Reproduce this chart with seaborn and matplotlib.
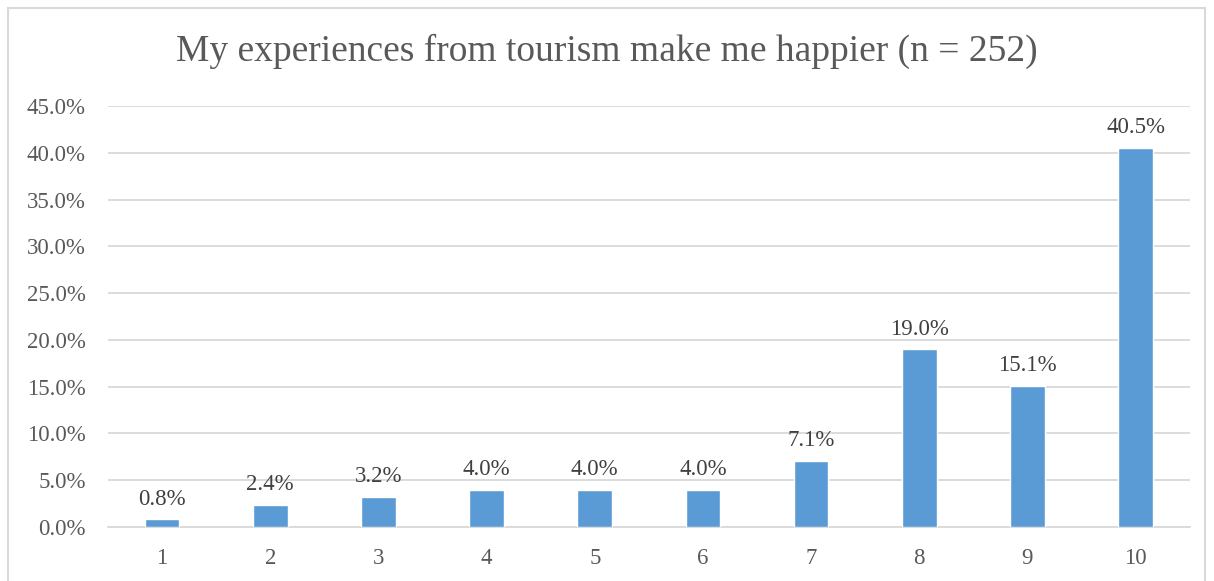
import matplotlib
matplotlib.use("Agg")
import matplotlib.pyplot as plt
from matplotlib.patches import Rectangle
from matplotlib.ticker import FuncFormatter, MultipleLocator
import seaborn as sns
import pandas as pd

# Responses on a 1-10 agreement scale, share of respondents (%)
scores = ["1", "2", "3", "4", "5", "6", "7", "8", "9", "10"]
shares = [0.8, 2.4, 3.2, 4.0, 4.0, 4.0, 7.1, 19.0, 15.1, 40.5]
title = "My experiences from tourism make me happier (n = 252)"

df = pd.DataFrame({"score": scores, "share": shares})

sns.set_theme(style="white")
plt.rcParams["font.family"] = ["Liberation Serif", "DejaVu Serif"]

text_color = "#595959"
grid_color = "#D9D9D9"
bar_color = "#5B9BD5"

fig = plt.figure(figsize=(12.14, 5.81), dpi=100)
ax = fig.add_axes([0.089, 0.093, 0.891, 0.7245])

sns.barplot(data=df, x="score", y="share", color=bar_color, width=0.32,
            saturation=1, ax=ax, zorder=3)

ax.set_ylim(0, 45)
ax.yaxis.set_major_locator(MultipleLocator(5))
ax.yaxis.set_major_formatter(FuncFormatter(lambda v, _: f"{v:.1f}%"))
ax.set_xlim(-0.5, len(scores) - 0.5)
ax.grid(axis="y", color=grid_color, linewidth=1.3, zorder=0)
ax.set_axisbelow(True)
for side in ["top", "right", "left"]:
    ax.spines[side].set_visible(False)
ax.spines["bottom"].set_color(grid_color)
ax.spines["bottom"].set_linewidth(1.3)
ax.set_xlabel("")
ax.set_ylabel("")
ax.tick_params(axis="both", length=0, labelsize=16.5, colors=text_color)
ax.tick_params(axis="y", pad=16)
ax.tick_params(axis="x", pad=15)

for i, v in enumerate(shares):
    ax.annotate(f"{v:.1f}%", (i, v), xytext=(0, 7), textcoords="offset points",
                ha="center", va="bottom", fontsize=16.5, color="#404040")

fig.text(0.5, 0.912, title, ha="center", va="center", fontsize=27,
         color=text_color)

# chart frame
fig.add_artist(Rectangle((8 / 1214, -0.05), 1197 / 1214, 1 - 8 / 581 + 0.05,
                         transform=fig.transFigure, fill=False,
                         edgecolor=grid_color, linewidth=1.5))

fig.savefig("out.png", dpi=100, facecolor="white")
